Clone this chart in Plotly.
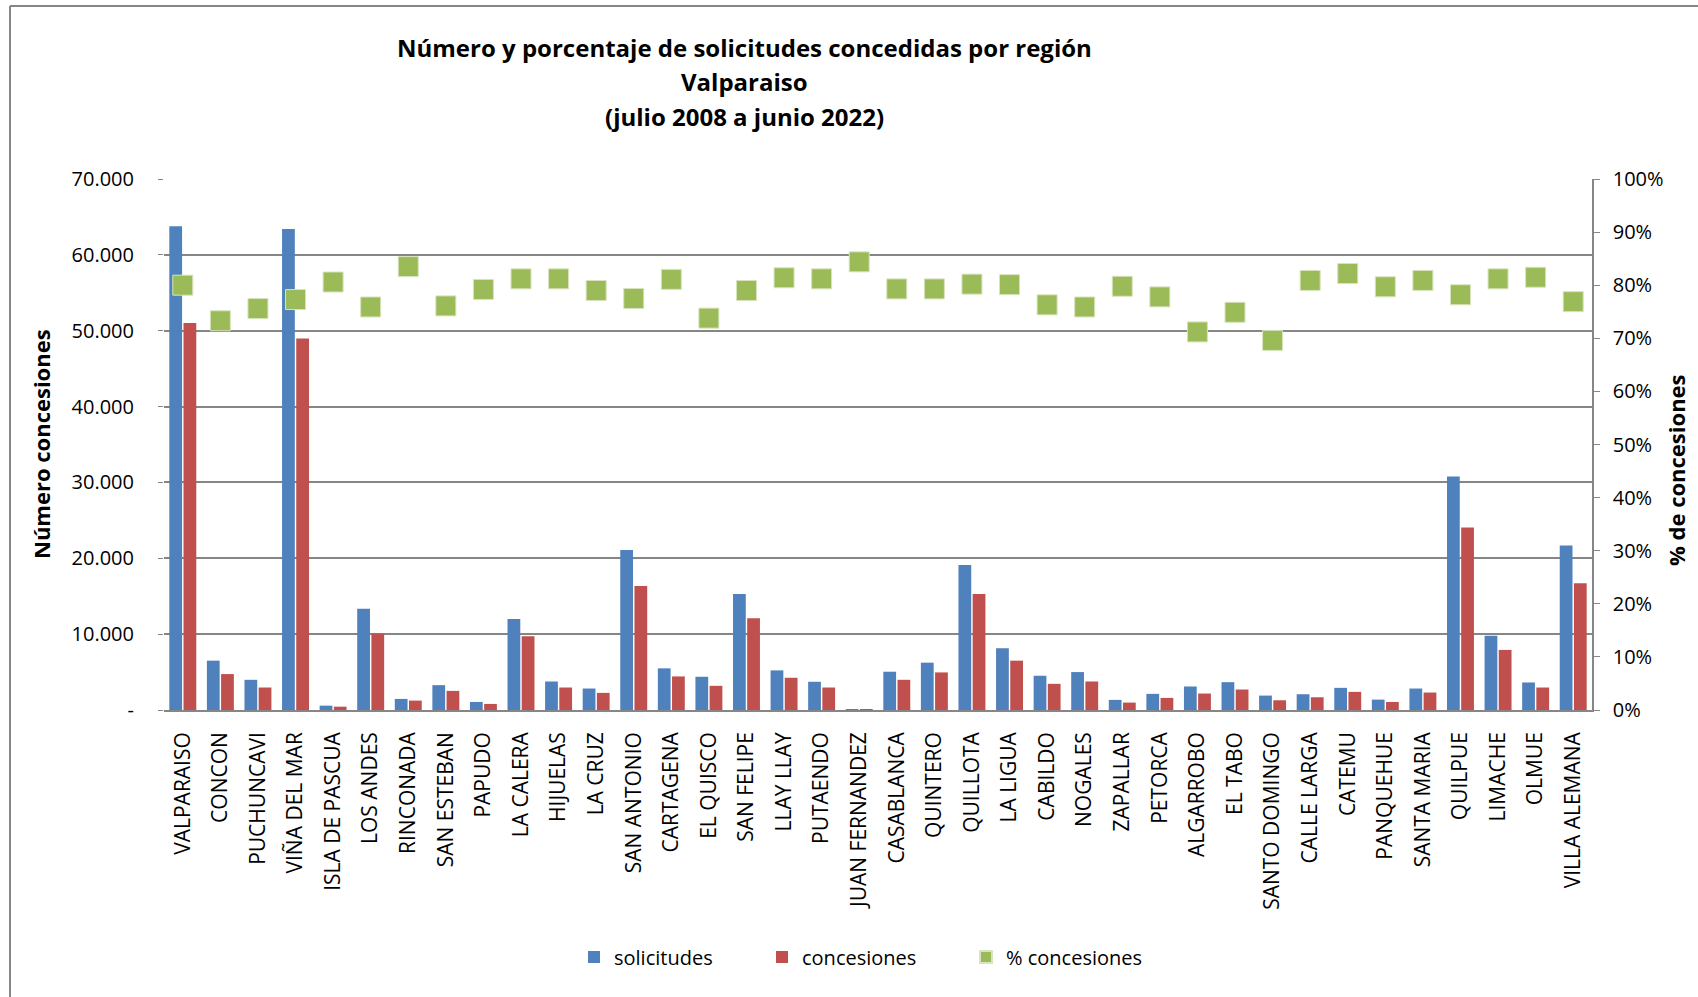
import plotly.graph_objects as go

categories = ["VALPARAISO", "CONCON", "PUCHUNCAVI", "VIÑA DEL MAR", "ISLA DE PASCUA", "LOS ANDES",
              "RINCONADA", "SAN ESTEBAN", "PAPUDO", "LA CALERA", "HIJUELAS", "LA CRUZ",
              "SAN ANTONIO", "CARTAGENA", "EL QUISCO", "SAN FELIPE", "LLAY LLAY", "PUTAENDO",
              "JUAN FERNANDEZ", "CASABLANCA", "QUINTERO", "QUILLOTA", "LA LIGUA", "CABILDO",
              "NOGALES", "ZAPALLAR", "PETORCA", "ALGARROBO", "EL TABO", "SANTO DOMINGO",
              "CALLE LARGA", "CATEMU", "PANQUEHUE", "SANTA MARIA", "QUILPUE", "LIMACHE",
              "OLMUE", "VILLA ALEMANA"]

solicitudes = [63770, 6505, 3980, 63420, 575, 13360, 1460, 3275, 1060, 11990, 3760, 2830,
               21080, 5490, 4380, 15280, 5220, 3720, 80, 5045, 6240, 19100, 8140, 4515,
               5000, 1330, 2125, 3100, 3670, 1900, 2080, 2920, 1370, 2830, 30790, 9780,
               3630, 21700]

concesiones = [51030, 4735, 2965, 48970, 440, 10090, 1240, 2520, 800, 9735, 2965, 2255,
               16340, 4425, 3185, 12080, 4250, 2965, 60, 3980, 4955, 15280, 6505, 3450,
               3760, 975, 1595, 2170, 2700, 1285, 1680, 2390, 1060, 2300, 24070, 7920,
               2965, 16700]

pct_concesiones = [0.800, 0.733, 0.756, 0.773, 0.806, 0.759, 0.835, 0.761, 0.792, 0.812,
                   0.812, 0.790, 0.775, 0.811, 0.738, 0.790, 0.814, 0.812, 0.844, 0.793,
                   0.793, 0.802, 0.801, 0.763, 0.759, 0.798, 0.778, 0.712, 0.749, 0.696,
                   0.809, 0.822, 0.797, 0.809, 0.782, 0.812, 0.815, 0.769]

left_tickvals = [0, 10000, 20000, 30000, 40000, 50000, 60000, 70000]
left_ticktext = ["-", "10.000", "20.000", "30.000", "40.000", "50.000", "60.000", "70.000"]
right_tickvals = [0, 0.1, 0.2, 0.3, 0.4, 0.5, 0.6, 0.7, 0.8, 0.9, 1.0]
right_ticktext = ["0%", "10%", "20%", "30%", "40%", "50%", "60%", "70%", "80%", "90%", "100%"]

title_lines = ["Número y porcentaje de solicitudes concedidas por región",
               "Valparaiso", "(julio 2008 a junio 2022)"]

W, H = 1698, 997
L, R, T, B = 164, 1592, 179, 710
PW, PH = R - L, B - T


def px_x(x):
    return (x - L) / PW


def px_y(y):
    return (B - y) / PH


FONT = "Open Sans"
GRID = "#868686"

fig = go.Figure()
fig.add_trace(go.Bar(x=categories, y=solicitudes, name="solicitudes",
                     marker=dict(color="#4F81BD", line=dict(width=0)), legend="legend"))
fig.add_trace(go.Bar(x=categories, y=concesiones, name="concesiones",
                     marker=dict(color="#C0504D", line=dict(width=0)), legend="legend2"))
fig.add_trace(go.Scatter(x=categories, y=pct_concesiones, name="% concesiones", mode="markers",
                         yaxis="y2", legend="legend3",
                         marker=dict(symbol="square", size=20, color="#9BBB59",
                                     line=dict(width=1, color="#D7E4BD"))))

annotations = []
for txt, yy in zip(title_lines, [47, 81, 116]):
    annotations.append(dict(text="<b>%s</b>" % txt, x=px_x(744), y=px_y(yy), xref="paper", yref="paper",
                            xanchor="center", yanchor="middle", showarrow=False,
                            font=dict(family=FONT, size=24, color="black")))
annotations.append(dict(text="<b>Número concesiones</b>", x=px_x(41), y=px_y(444), xref="paper",
                        yref="paper", textangle=-90, showarrow=False, xanchor="center",
                        yanchor="middle", font=dict(family=FONT, size=22, color="black")))
annotations.append(dict(text="<b>% de concesiones</b>", x=px_x(1676), y=px_y(470), xref="paper",
                        yref="paper", textangle=-90, showarrow=False, xanchor="center",
                        yanchor="middle", font=dict(family=FONT, size=22, color="black")))

shapes = [
    dict(type="line", xref="paper", yref="paper", x0=px_x(10), x1=px_x(10), y0=px_y(6), y1=px_y(H),
         line=dict(color=GRID, width=2)),
    dict(type="line", xref="paper", yref="paper", x0=px_x(10), x1=px_x(W), y0=px_y(6), y1=px_y(6),
         line=dict(color=GRID, width=2)),
]

legend_common = dict(orientation="h", yref="paper", y=px_y(957), yanchor="middle", xanchor="left",
                     font=dict(family=FONT, size=20, color="black"), bgcolor="rgba(0,0,0,0)",
                     itemsizing="constant", visible=True)

fig.update_layout(
    width=W, height=H,
    margin=dict(l=L, r=W - R, t=T, b=H - B, autoexpand=False),
    paper_bgcolor="white", plot_bgcolor="white",
    showlegend=True,
    barmode="group", bargap=0.245, bargroupgap=0.1,
    font=dict(family=FONT, color="black"),
    xaxis=dict(type="category", range=[-0.5, len(categories) - 0.5], showline=True,
               linecolor=GRID, linewidth=1.5, ticks="",
               tickangle=-90, tickfont=dict(family=FONT, size=21, color="black"),
               ticklabelstandoff=12, showgrid=False, zeroline=False),
    yaxis=dict(range=[0, 70000], tickvals=left_tickvals, ticktext=left_ticktext,
               showgrid=True, gridcolor=GRID, gridwidth=1.5, zeroline=False, showline=False,
               ticks="outside", ticklen=5, tickcolor=GRID, ticklabelstandoff=20,
               tickfont=dict(family=FONT, size=20, color="black")),
    yaxis2=dict(range=[0, 1], overlaying="y", side="right", tickvals=right_tickvals,
                ticktext=right_ticktext, showgrid=False, zeroline=False, showline=True,
                linecolor=GRID, linewidth=1.5, ticks="outside", ticklen=6, tickcolor=GRID,
                ticklabelstandoff=9, tickfont=dict(family=FONT, size=20, color="black")),
    legend=dict(x=px_x(574), **legend_common),
    legend2=dict(x=px_x(762), **legend_common),
    legend3=dict(x=px_x(966), **legend_common),
    annotations=annotations,
    shapes=shapes,
)

fig.write_html("out.html", config={"displayModeBar": False},
               post_script="document.body.style.margin='0';document.body.style.overflow='hidden';")
